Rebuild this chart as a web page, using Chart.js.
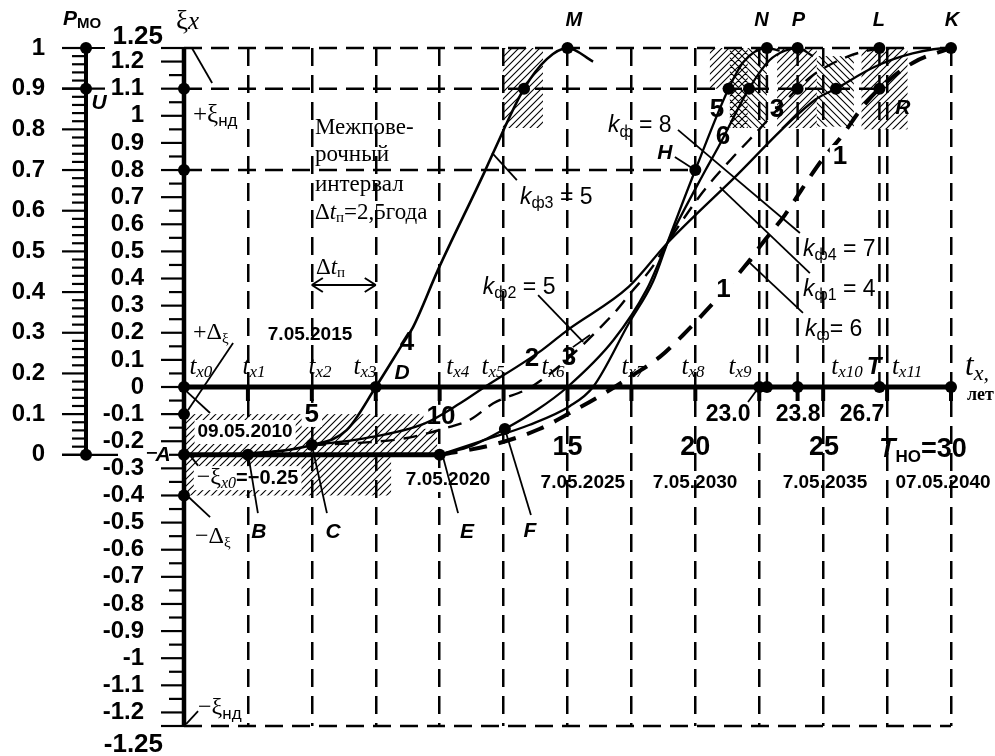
<!DOCTYPE html>
<html><head><meta charset="utf-8">
<script src="https://cdn.jsdelivr.net/npm/chart.js@4.4.1/dist/chart.umd.min.js"></script>
<style>html,body{margin:0;padding:0;background:#fff;}canvas{display:block;}</style>
</head><body>
<canvas id="c" width="995" height="756"></canvas>
<script>
// ================= DATA (x = years t_x, y = relative error ξx) =================
const curve1 = [[10,-0.25],[12,-0.215],[13.9,-0.155],[15.2,-0.09],[16.5,-0.02],[17.5,0.04],[18.6,0.11],[19.5,0.19],[20.45,0.284],[21.94,0.446],[22.72,0.542],[23.5,0.634],[24.17,0.73],[24.95,0.837],[25.73,0.925],[26.52,1.03],[27.2,1.1],[28.5,1.195],[30,1.25]];
const curve2 = [[5,-0.214],[7,-0.205],[8.6,-0.19],[10.3,-0.15],[11.2,-0.12],[12.1,-0.06],[13.7,0.007],[16.8,0.27],[17.5,0.35],[18.3,0.44],[18.9,0.53],[20.3,0.72],[21.4,0.84],[22.1,0.91],[24,1.1],[24.6,1.15],[26,1.22],[27.2,1.25]];
const curve4 = [[0,-0.25],[2.5,-0.245],[5,-0.214],[6.36,-0.159],[7.5,0],[8.57,0.162],[8.96,0.221],[9.93,0.431],[11.77,0.796],[12.09,0.863],[13.3,1.1],[14.2,1.21],[15,1.25],[16,1.2]];
const curve5 = [[10,-0.25],[11.6,-0.2],[13.5,-0.14],[15.1,-0.07],[16,0],[17.4,0.235],[18.35,0.39],[18.9,0.53],[20,0.8],[21.3,1.1],[21.9,1.2],[22.8,1.25],[23.3,1.24]];
const curve6 = [[10,-0.25],[11.3,-0.215],[12.55,-0.155],[13.8,-0.085],[15,0],[16.8,0.173],[18.1,0.36],[18.9,0.53],[20.4,0.8],[20.9,0.885],[22.1,1.1],[22.9,1.205],[23.5,1.24],[24,1.25],[24.6,1.22]];
const curve10 = [[5,-0.214],[7,-0.19],[9.4,-0.135],[10.8,-0.06],[11.6,-0.01],[14,0.136],[15,0.21],[17.4,0.37],[18.9,0.53],[21.4,0.76],[24.7,1.06],[25.5,1.1],[27,1.18],[28.5,1.23],[30,1.25],[30.7,1.24]];
const keyPoints = [[0,1.1],[0,0.8],[0,0],[0,-0.1],[0,-0.25],[0,-0.4],[2.5,-0.25],[5,-0.214],[7.5,0],[10,-0.25],[12.55,-0.155],
  [13.3,1.1],[15,1.25],[20,0.8],[21.3,1.1],[22.1,1.1],[24,1.1],[25.5,1.1],[27.2,1.1],[22.8,1.25],[24,1.25],[27.2,1.25],[30,1.25],
  [22.5,0],[22.8,0],[24,0],[27.2,0],[30,0]];
const pmoPoints = [1, 0.9, 0];
const xiTicks = [-1.25,-1.2,-1.1,-1,-0.9,-0.8,-0.7,-0.6,-0.5,-0.4,-0.3,-0.2,-0.1,0,0.1,0.2,0.3,0.4,0.5,0.6,0.7,0.8,0.9,1,1.1,1.2,1.25];
const pmoTicks = [0,0.1,0.2,0.3,0.4,0.5,0.6,0.7,0.8,0.9,1];
const xStep = 2.5;
const tLabels = ['x0','x1','x2','x3','x4','x5','x6','x7','x8','x9','x10','x11'];
const tLabelAt = [0.66,2.74,5.32,7.08,10.71,12.09,14.43,17.56,19.91,21.75,25.93,28.28];
const yearLabels = ['5','10','15','20','25'];
const yearLabelAt = [[5,-0.103],[10.05,-0.11],[15,-0.225],[20,-0.225],[25.03,-0.225]];
const dateLabels = ['09.05.2010','7.05.2015','7.05.2020','7.05.2025','7.05.2030','7.05.2035','07.05.2040'];
const dateLabelAt = [[2.39,-0.166],[4.93,0.192],[10.33,-0.343],[15.6,-0.354],[19.99,-0.354],[25.07,-0.354],[29.69,-0.354]];
const markLabels = ['23.0','23.8','26.7'];
const markLabelAt = [21.28,24.02,26.52];

// ================= LAYOUT / STYLE =================
const AREA = {left:184, top:48, right:951, bottom:726};
const SB = n => `bold ${n}px "Liberation Sans", Arial, sans-serif`;
const SBI = n => `italic bold ${n}px "Liberation Sans", Arial, sans-serif`;
const SN = n => `${n}px "Liberation Sans", Arial, sans-serif`;
const SI = n => `italic ${n}px "Liberation Sans", Arial, sans-serif`;
const SR = n => `${n}px "Liberation Serif", "Times New Roman", serif`;
const SRI = n => `italic ${n}px "Liberation Serif", "Times New Roman", serif`;

const hatchBoxes = [
  [0,9.9,-0.25,-0.1,'/'],[0,8.1,-0.4,-0.25,'/'],
  [12.47,14.04,0.955,1.25,'/'],
  [20.57,21.35,1.1,1.25,'/'],[21.35,22.05,0.955,1.25,'x'],[22.05,22.8,0.955,1.25,'\\'],
  [23.2,24.75,0.955,1.25,'/'],[24.75,26.2,0.96,1.22,'\\'],[26.5,28.3,0.95,1.25,'/']
];
const dashedLevels = [[1.25,30],[1.1,27.2],[0.8,20],[-1.25,30]];
const extraVerticals = [22.8,24,27.2];
const pointers = [
  [0.31,1.25,1.1,1.121],[12.05,0.863,13.02,0.763],[19.32,0.948,24.09,0.568],[20.96,0.737,24.48,0.42],
  [22.14,0.457,24.21,0.273],[21.75,0.424,22.22,0.468],[13.85,0.339,15.61,0.166],[15.21,0.147,15.88,0.192],
  [19.2,0.848,19.99,0.8],[2.5,-0.243,2.89,-0.465],[5,-0.214,5.59,-0.465],[10.09,-0.243,10.72,-0.465],
  [12.55,-0.155,13.57,-0.472],[22.49,0,22.06,-0.055],[1.92,0.162,0.16,-0.085],[0.12,-0.018,1.02,-0.096],
  [0.05,-0.23,0.55,-0.29],[0,-0.39,1.02,-0.48],[0.08,-1.243,0.55,-1.195],[-1.45,-0.243,-1.06,-0.243]
];
const texts = [
  {x:-0.31,y:1.345,a:'left',p:[['ξ',SR(27)],['x',SRI(25)]]},
  {x:-4.73,y:1.357,a:'left',p:[['P',SBI(21)],['МО',SB(15),5]]},
  {x:-0.82,y:1.29,a:'right',p:[['1.25',SB(26)]]},
  {x:-0.82,y:-1.32,a:'right',p:[['-1.25',SB(26)]]},
  {x:-3.32,y:1.047,a:'center',p:[['U',SBI(21)]]},
  {x:0.35,y:1.003,a:'left',p:[['+ξ',SR(25)],['нд',SN(17),6]]},
  {x:5.12,y:0.955,a:'left',p:[['Межпове-',SR(23)]]},
  {x:5.12,y:0.855,a:'left',p:[['рочный',SR(23)]]},
  {x:5.12,y:0.745,a:'left',p:[['интервал',SR(23)]]},
  {x:5.12,y:0.642,a:'left',p:[['Δ',SR(23)],['t',SRI(23)],['п',SR(15),5],['=2,5года',SR(23)]]},
  {x:5.16,y:0.44,a:'left',p:[['Δ',SR(23)],['t',SRI(23)],['п',SR(15),5]]},
  {x:0.35,y:0.2,a:'left',p:[['+Δ',SR(24)],['ξ',SR(15),6]]},
  {x:26.99,y:0.074,a:'center',p:[['T',SBI(24)]]},
  {x:30.55,y:0.074,a:'left',p:[['t',SRI(31)],['x,',SRI(22),7]]},
  {x:31.15,y:-0.03,a:'center',p:[['лет',`bold 18px "Liberation Serif", serif`]]},
  {x:28.9,y:-0.232,a:'center',p:[['T',SBI(27)],['НО',SB(17),7],['=30',SB(27)]]},
  {x:0.5,y:-0.336,a:'left',bg:true,p:[['−ξ',SR(24)],['x0',SRI(16),6],['=−0.25',SB(20)]]},
  {x:0.43,y:-0.553,a:'left',p:[['−Δ',SR(24)],['ξ',SR(15),6]]},
  {x:0.55,y:-1.184,a:'left',p:[['−ξ',SR(24)],['нд',SN(17),6]]},
  {x:-0.82,y:-0.251,a:'center',p:[['A',SBI(21)]]},
  {x:2.93,y:-0.535,a:'center',p:[['B',SBI(21)]]},
  {x:5.83,y:-0.535,a:'center',p:[['C',SBI(21)]]},
  {x:8.53,y:0.052,a:'center',p:[['D',SBI(21)]]},
  {x:11.07,y:-0.535,a:'center',p:[['E',SBI(21)]]},
  {x:13.53,y:-0.531,a:'center',p:[['F',SBI(21)]]},
  {x:18.81,y:0.863,a:'center',p:[['H',SBI(21)]]},
  {x:15.25,y:1.353,a:'center',p:[['M',SBI(20)]]},
  {x:22.59,y:1.353,a:'center',p:[['N',SBI(20)]]},
  {x:24.03,y:1.353,a:'center',p:[['P',SBI(20)]]},
  {x:27.18,y:1.353,a:'center',p:[['L',SBI(20)]]},
  {x:30.04,y:1.353,a:'center',p:[['K',SBI(20)]]},
  {x:28.12,y:1.029,a:'center',p:[['R',SBI(21)]]},
  {x:8.72,y:0.162,a:'center',p:[['4',SB(26)]]},
  {x:13.61,y:0.103,a:'center',p:[['2',SB(26)]]},
  {x:15.06,y:0.107,a:'center',p:[['3',SB(26)]]},
  {x:20.85,y:1.021,a:'center',p:[['5',SB(26)]]},
  {x:21.08,y:0.922,a:'center',p:[['6',SB(26)]]},
  {x:23.19,y:1.021,a:'center',p:[['3',SB(26)]]},
  {x:21.1,y:0.358,a:'center',bg:true,p:[['1',SB(26)]]},
  {x:25.66,y:0.848,a:'center',bg:true,p:[['1',SB(26)]]},
  {x:13.14,y:0.7,a:'left',p:[['k',SI(23)],['ф3',SN(16),6],[' = 5',SN(23)]]},
  {x:16.58,y:0.962,a:'left',p:[['k',SI(23)],['ф',SN(16),6],[' = 8',SN(23)]]},
  {x:11.69,y:0.365,a:'left',p:[['k',SI(23)],['ф2',SN(16),6],[' = 5',SN(23)]]},
  {x:24.21,y:0.505,a:'left',p:[['k',SI(23)],['ф4',SN(16),6],[' = 7',SN(23)]]},
  {x:24.21,y:0.358,a:'left',p:[['k',SI(23)],['ф1',SN(16),6],[' = 4',SN(23)]]},
  {x:24.29,y:0.21,a:'left',p:[['k',SI(23)],['ф',SN(16),6],['= 6',SN(23)]]}
];
tLabels.forEach((s,i)=>texts.push({x:tLabelAt[i],y:0.074,a:'center',p:[['t',SRI(25)],[s,SRI(17),6]]}));
yearLabels.forEach((s,i)=>texts.push({x:yearLabelAt[i][0],y:yearLabelAt[i][1],a:'center',bg:i<2,p:[[s,SB(i<2?26:27)]]}));
dateLabels.forEach((s,i)=>texts.push({x:dateLabelAt[i][0],y:dateLabelAt[i][1],a:'center',bg:(i===0||i===2),p:[[s,SB(19)]]}));
markLabels.forEach((s,i)=>texts.push({x:markLabelAt[i],y:-0.103,a:'center',p:[[s,SB(23)]]}));

function pat(ctx, kind){
  const s=7, c=document.createElement('canvas'); c.width=c.height=s;
  const g=c.getContext('2d'); g.strokeStyle='#000'; g.lineWidth=1.1; g.beginPath();
  if(kind==='/'||kind==='x'){g.moveTo(-1,s+1);g.lineTo(s+1,-1);g.moveTo(-1,1);g.lineTo(1,-1);g.moveTo(s-1,s+1);g.lineTo(s+1,s-1);}
  if(kind==='\\'||kind==='x'){g.moveTo(-1,-1);g.lineTo(s+1,s+1);g.moveTo(-1,s-1);g.lineTo(1,s+1);g.moveTo(s-1,-1);g.lineTo(s+1,1);}
  g.stroke(); return ctx.createPattern(c,'repeat');
}
function measure(g,parts){let w=0;parts.forEach(p=>{g.font=p[1];w+=g.measureText(p[0]).width;});return w;}
function rich(g,x,y,parts,align){
  const w=measure(g,parts); let cx=align==='center'?x-w/2:align==='right'?x-w:x;
  g.textAlign='left'; g.textBaseline='middle'; g.fillStyle='#000';
  parts.forEach(p=>{g.font=p[1];g.fillText(p[0],cx,y+(p[2]||0));cx+=g.measureText(p[0]).width;});
}
function bgBox(g,x,y,t){
  const w=measure(g,t.p); const lx=t.a==='center'?x-w/2:t.a==='right'?x-w:x;
  g.fillStyle='#fff'; g.fillRect(lx-3,y-12,w+6,24);
}
function seg(g,x1,y1,x2,y2){g.beginPath();g.moveTo(x1,y1);g.lineTo(x2,y2);g.stroke();}
const fmt = v => String(Math.round(v*100)/100);

const ink = {
  id:'ink',
  beforeDatasetsDraw(ch){
    const g=ch.ctx, sx=ch.scales.x, sy=ch.scales.y, sp=ch.scales.yP;
    const X=v=>sx.getPixelForValue(v), Y=v=>sy.getPixelForValue(v), YP=v=>sp.getPixelForValue(v);
    g.save();
    hatchBoxes.forEach(b=>{g.fillStyle=pat(g,b[4]);g.fillRect(X(b[0]),Y(b[3]),X(b[1])-X(b[0]),Y(b[2])-Y(b[3]));});
    g.strokeStyle='#000'; g.lineWidth=2.5; g.setLineDash([18,9]);
    dashedLevels.forEach(d=>seg(g,X(0),Y(d[0]),X(d[1]),Y(d[0])));
    extraVerticals.forEach(v=>seg(g,X(v),Y(1.25),X(v),Y(0)));
    g.setLineDash([]);
    texts.filter(t=>t.bg && t.y<-0.05).forEach(t=>bgBox(g,X(t.x),Y(t.y),t));
    g.strokeStyle='#000'; g.lineWidth=5;
    seg(g,X(0),Y(0),X(30),Y(0));
    seg(g,X(0),Y(-0.25),X(10),Y(-0.25));
    g.lineWidth=4;
    for(let v=xStep; v<=30.001; v+=xStep) seg(g,X(v),Y(0),X(v),Y(0)+14);
    seg(g,X(24),Y(0),X(24),Y(0)+14);
    const ax=X(0);
    g.lineWidth=4.5; seg(g,ax,Y(1.25),ax,Y(-1.25));
    g.lineWidth=2.2;
    for(let k=-25;k<=25;k++){const v=k*0.05; const major=(k%2===0)||Math.abs(k)===25; seg(g,ax-(major?23:15),Y(v),ax,Y(v));}
    const px=sp.right;
    g.lineWidth=4; seg(g,px,YP(1),px,YP(0));
    g.lineWidth=2.2;
    for(let k=0;k<=50;k++){const v=k*0.02; const major=k%5===0; seg(g,px-(major?24:14),YP(v),px,YP(v));}
    seg(g,px-24,YP(1),px+19,YP(1)); seg(g,px-24,YP(0.9),px+19,YP(0.9)); seg(g,px-24,YP(0),px+32,YP(0));
    g.restore();
  },
  afterDatasetsDraw(ch){
    const g=ch.ctx, sx=ch.scales.x, sy=ch.scales.y, sp=ch.scales.yP;
    const X=v=>sx.getPixelForValue(v), Y=v=>sy.getPixelForValue(v), YP=v=>sp.getPixelForValue(v);
    g.save();
    g.strokeStyle='#000'; g.lineWidth=1.8;
    pointers.forEach(p=>seg(g,X(p[0]),Y(p[1]),X(p[2]),Y(p[3])));
    const ay=Y(0.376), a1=X(5), a2=X(7.5);
    g.lineWidth=2; seg(g,a1,ay,a2,ay);
    seg(g,a1,ay,a1+11,ay-7); seg(g,a1,ay,a1+11,ay+7);
    seg(g,a2,ay,a2-11,ay-7); seg(g,a2,ay,a2-11,ay+7);
    g.fillStyle='#000';
    pmoPoints.forEach(p=>{g.beginPath();g.arc(sp.right,YP(p),6,0,Math.PI*2);g.fill();});
    texts.filter(t=>t.bg && t.y>=-0.05).forEach(t=>bgBox(g,X(t.x),Y(t.y),t));
    texts.forEach(t=>rich(g,X(t.x),Y(t.y),t.p,t.a));
    g.restore();
  }
};

const curveDs = (data, extra) => Object.assign({
  data:data.map(p=>({x:p[0],y:p[1]})), showLine:true, borderColor:'#000', backgroundColor:'#000',
  borderWidth:2.3, pointRadius:0, pointHoverRadius:0, cubicInterpolationMode:'monotone', fill:false, clip:false, yAxisID:'y'
}, extra||{});
// vertical scales: drop Chart.js' automatic label overflow padding so the plot frame is exact
const noVPad = s => { s.paddingTop = 0; s.paddingBottom = 0; };

new Chart(document.getElementById('c'), {
  type:'scatter',
  data:{datasets:[
    curveDs(curve4,{borderWidth:2.6}),
    curveDs(curve10),
    curveDs(curve5),
    curveDs(curve6),
    curveDs(curve2,{borderDash:[14,9],borderWidth:2.4}),
    curveDs(curve1,{borderDash:[18,12],borderWidth:4}),
    {data:keyPoints.map(p=>({x:p[0],y:p[1]})), showLine:false, pointRadius:6, pointHoverRadius:6,
     pointBackgroundColor:'#000', pointBorderColor:'#000', pointBorderWidth:0, clip:false, yAxisID:'y'}
  ]},
  options:{
    responsive:false, animation:false, events:[],
    layout:{padding:{top:AREA.top,right:995-AREA.right,bottom:756-AREA.bottom,left:0}},
    plugins:{legend:{display:false},tooltip:{enabled:false}},
    scales:{
      x:{type:'linear',min:0,max:30,
         ticks:{display:false,stepSize:xStep},
         grid:{color:'#000',lineWidth:2.5,drawTicks:false},
         border:{display:false,dash:[18,9]},
         afterFit(s){s.height=0;s.paddingLeft=0;s.paddingRight=0;}},
      y:{type:'linear',position:'left',weight:0,min:-1.25,max:1.25,
         afterBuildTicks(s){s.ticks=xiTicks.map(v=>({value:v}));},
         ticks:{autoSkip:false,padding:40,color:'#000',
                font:{family:'"Liberation Sans", Arial, sans-serif',size:24,weight:'bold'},
                callback:v=>Math.abs(Math.abs(v)-1.25)<1e-6?'':fmt(v)},
         grid:{display:false,drawTicks:false},border:{display:false},
         afterFit(s){s.width=AREA.left-86;noVPad(s);}},
      yP:{type:'linear',position:'left',weight:1,min:-2/3,max:1,
         afterBuildTicks(s){s.ticks=pmoTicks.map(v=>({value:v}));},
         ticks:{autoSkip:false,padding:41,color:'#000',
                font:{family:'"Liberation Sans", Arial, sans-serif',size:24,weight:'bold'},
                callback:v=>fmt(v)},
         grid:{display:false,drawTicks:false},border:{display:false},
         afterFit(s){s.width=86;noVPad(s);}}
    }
  },
  plugins:[ink]
});
</script>
</body></html>
